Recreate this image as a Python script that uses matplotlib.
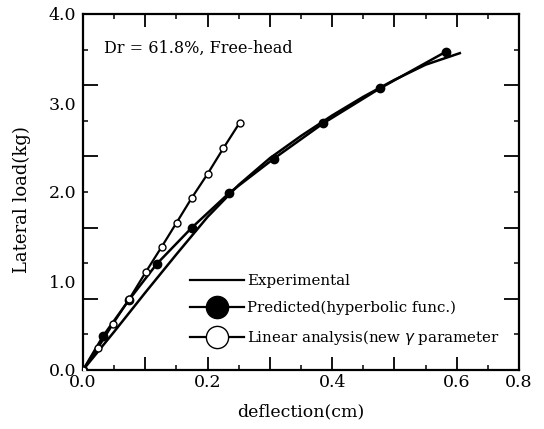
import numpy as np
import matplotlib
matplotlib.use("Agg")
import matplotlib.pyplot as plt
from matplotlib.ticker import MultipleLocator

plt.rcParams['font.family'] = ['DejaVu Serif']

# Experimental (plain line)
exp_x = [0.0, 0.05, 0.10, 0.15, 0.20, 0.25, 0.30, 0.35, 0.40, 0.45, 0.50, 0.55, 0.605]
exp_y = [0.0, 0.43, 0.87, 1.30, 1.72, 2.08, 2.38, 2.63, 2.86, 3.07, 3.26, 3.43, 3.56]

# Predicted (hyperbolic func.) - filled circles
pred_x = [0.0, 0.0326, 0.0738, 0.1183, 0.1742, 0.2347, 0.3062, 0.3858, 0.4768, 0.5828]
pred_y = [0.0, 0.385, 0.787, 1.191, 1.596, 1.989, 2.374, 2.772, 3.165, 3.577]

# Linear analysis (new gamma parameter) - open circles
lin_x = [0.0, 0.024, 0.048, 0.0743, 0.1011, 0.1264, 0.1504, 0.1750, 0.1999, 0.2253, 0.2516]
lin_y = [0.0, 0.247, 0.517, 0.798, 1.104, 1.385, 1.657, 1.938, 2.202, 2.491, 2.779]

xtick_pos = [0.0, 0.1, 0.2, 0.3, 0.4, 0.5, 0.6, 0.7]
xtick_lab = ['0.0', '', '0.2', '', '0.4', '', '0.6', '0.8']
ytick_lab_pos = [0, 1, 2, 3, 4]
ytick_lab = ['0.0', '1.0', '2.0', '3.0', '4.0']

fig = plt.figure(figsize=(5.44, 4.29), dpi=100)
ax = fig.add_axes([83/544, 1-370/429, 436/544, 356/429])

ax.plot(exp_x, exp_y, color='black', lw=1.8, label='Experimental', zorder=3)
ax.plot(pred_x, pred_y, color='black', lw=1.8, marker='o', ms=6,
        mfc='black', mec='black', label='Predicted(hyperbolic func.)', zorder=4)
ax.plot(lin_x, lin_y, color='black', lw=1.6, marker='o', ms=5,
        mfc='white', mec='black', mew=1.0, label='Linear analysis(new $\\gamma$ parameter', zorder=4)

ax.set_xlim(0, 0.7)
ax.set_ylim(0, 4.0)

for s in ax.spines.values():
    s.set_linewidth(1.6)

# x ticks
ax.set_xticks(xtick_pos)
ax.set_xticklabels(xtick_lab, fontsize=12.5)
ax.xaxis.set_minor_locator(MultipleLocator(0.05))
ax.tick_params(axis='x', which='major', direction='in', length=9.5, width=1.3,
               top=True, bottom=True, pad=3)
ax.tick_params(axis='x', which='minor', direction='in', length=3.5, width=1.1,
               top=True, bottom=True)

# y ticks: long at 0.8, short at 0.4, labels at integers
ax.yaxis.set_major_locator(MultipleLocator(0.8))
ax.yaxis.set_minor_locator(MultipleLocator(0.4))
ax.tick_params(axis='y', which='major', direction='in', length=11, width=1.3,
               left=True, right=True, labelleft=False)
ax.tick_params(axis='y', which='minor', direction='in', length=3.5, width=1.1,
               left=True, right=True)

sec = ax.secondary_yaxis('left')
sec.set_yticks(ytick_lab_pos)
sec.set_yticklabels(ytick_lab, fontsize=12.5)
sec.tick_params(length=0, pad=5)
sec.spines['left'].set_visible(False)

ax.set_xlabel('deflection(cm)', fontsize=12.5, labelpad=9)
fig.text(22/544, 1-200/429, 'Lateral load(kg)', rotation=90, fontsize=13,
         ha='center', va='center')

ax.text((104-83)/436, (370-48.5)/356, 'Dr = 61.8%, Free-head', transform=ax.transAxes,
        fontsize=11.5, ha='left', va='center')

leg = ax.legend(loc='center left', bbox_to_anchor=((190-83)/436, (370-310.5)/356),
                frameon=False, fontsize=10.8, handlelength=3.6, handletextpad=0.2,
                labelspacing=0.85, borderpad=0, borderaxespad=0, numpoints=1)
for h in leg.legend_handles:
    h.set_markersize(16)
    h.set_linewidth(1.6)

fig.savefig('out.png', dpi=100)
